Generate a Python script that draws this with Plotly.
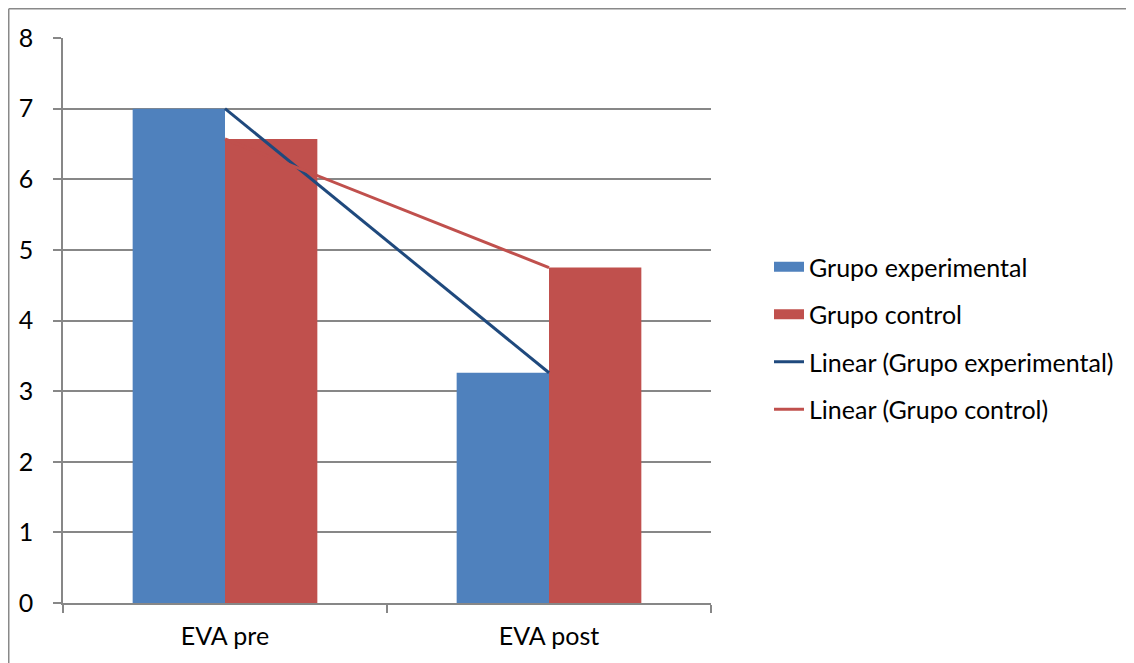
import plotly.graph_objects as go

categories = ["EVA pre", "EVA post"]
grupo_experimental = [7.0, 3.26]
grupo_control = [6.57, 4.75]
y_ticks = [0, 1, 2, 3, 4, 5, 6, 7, 8]

BLUE = "#4F81BD"
RED = "#C0504D"
TREND_BLUE = "#1F497D"
TREND_RED = "#C0504D"
GRID = "#878787"
FONT = "Lato"
FS = 25

fig = go.Figure()
fig.add_trace(go.Bar(x=categories, y=grupo_experimental, name="Grupo experimental",
                     marker=dict(color=BLUE, line=dict(width=0)), showlegend=False))
fig.add_trace(go.Bar(x=categories, y=grupo_control, name="Grupo control",
                     marker=dict(color=RED, line=dict(width=0)), showlegend=False))
fig.add_trace(go.Scatter(x=categories, y=grupo_experimental, mode="lines",
                         line=dict(color=TREND_BLUE, width=3), showlegend=False))
fig.add_trace(go.Scatter(x=categories, y=grupo_control, mode="lines",
                         line=dict(color=TREND_RED, width=3), showlegend=False))

# legend entries
legend_items = [("Grupo experimental", BLUE, 13), ("Grupo control", RED, 13),
                ("Linear (Grupo experimental)", TREND_BLUE, 3),
                ("Linear (Grupo control)", TREND_RED, 3)]
for i, (nm, col, w) in enumerate(legend_items):
    fig.add_trace(go.Scatter(x=[None], y=[None], mode="lines", name=nm,
                             line=dict(color=col, width=w), legendgroup=f"g{i}",
                             showlegend=True))

# figure placed at (8,8) in the page by the body margin
W, H = 1126, 655
L, T = 55, 30
pw, ph = 648, 565
R = W - L - pw
B = H - T - ph

def px_x(p):
    return (p - L) / pw

def px_y(p):
    return (H - B - p) / ph

fig.update_layout(
    width=W, height=H,
    margin=dict(l=L, r=R, t=T, b=B),
    paper_bgcolor="white", plot_bgcolor="white",
    barmode="group", bargap=0.43, bargroupgap=0,
    font=dict(family=FONT, size=FS, color="#000000"),
    showlegend=True,
    legend=dict(x=px_x(761), y=px_y(236), xanchor="left", yanchor="top",
                tracegroupgap=12, bgcolor="rgba(0,0,0,0)",
                font=dict(family=FONT, size=FS, color="#000000")),
    xaxis=dict(type="category", showgrid=False, showline=True, linecolor=GRID, linewidth=1.5,
               ticks="outside", tickson="boundaries", ticklen=8, tickcolor=GRID, tickwidth=1.5,
               ticklabelstandoff=10, tickfont=dict(family=FONT, size=FS)),
    yaxis=dict(range=[0, 8], tickvals=y_ticks, showgrid=True, gridcolor=GRID, gridwidth=1.5,
               showline=True, linecolor=GRID, linewidth=1.5, ticks="outside", ticklen=8,
               tickcolor=GRID, tickwidth=1.5, ticklabelstandoff=15, zeroline=False,
               tickfont=dict(family=FONT, size=FS)),
    shapes=[
        dict(type="line", xref="paper", yref="paper", x0=px_x(0.75), x1=px_x(W + 5),
             y0=px_y(0.75), y1=px_y(0.75), line=dict(color="#898989", width=1.5)),
        dict(type="line", xref="paper", yref="paper", x0=px_x(0.75), x1=px_x(0.75),
             y0=px_y(0.75), y1=px_y(H + 5), line=dict(color="#898989", width=1.5)),
    ],
)

fig.write_html("out.html")
